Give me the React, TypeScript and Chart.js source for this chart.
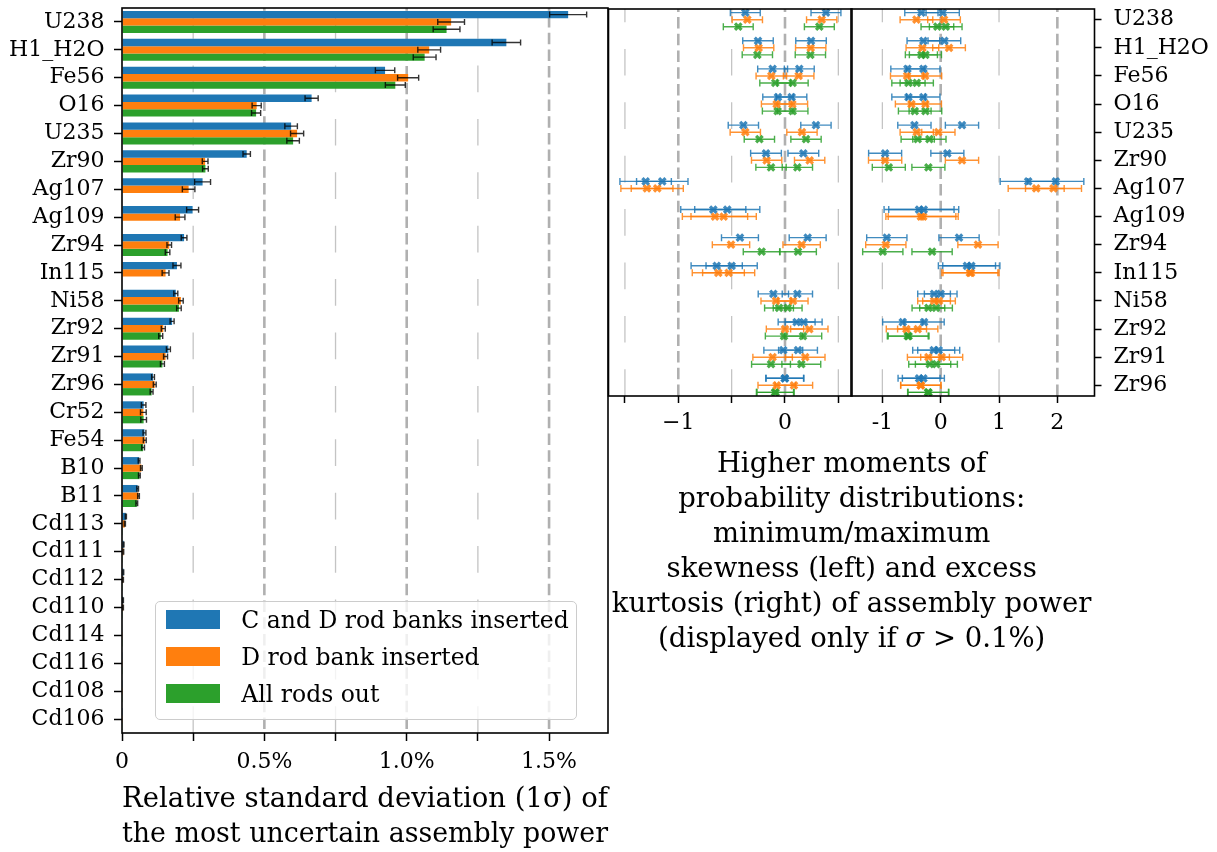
import React, { useEffect, useRef } from 'react';
import { Chart, registerables } from 'chart.js';

Chart.register(...registerables);

const W = 1217;
const H = 852;
const FONT = "'DejaVu Serif', 'Liberation Serif', serif";

// ---------- left panel: relative standard deviation ----------
const categories = ['U238', 'H1_H2O', 'Fe56', 'O16', 'U235', 'Zr90', 'Ag107', 'Ag109', 'Zr94', 'In115', 'Ni58', 'Zr92', 'Zr91', 'Zr96', 'Cr52', 'Fe54', 'B10', 'B11', 'Cd113', 'Cd111', 'Cd112', 'Cd110', 'Cd114', 'Cd116', 'Cd108', 'Cd106'];
const seriesLabels = ['C and D rod banks inserted', 'D rod bank inserted', 'All rods out'];
const seriesColors = ['#1f77b4', '#ff7f0e', '#2ca02c'];

const sdCD = [1.567, 1.350, 0.924, 0.666, 0.594, 0.438, 0.283, 0.248, 0.218, 0.193, 0.189, 0.176, 0.163, 0.109, 0.076, 0.079, 0.060, 0.055, 0.0135, 0.006, 0.005, 0.004, 0.0015, 0.001, 0.0008, 0.0005];
const sdCDErr = [0.065, 0.050, 0.034, 0.023, 0.022, 0.013, 0.028, 0.021, 0.010, 0.014, 0.007, 0.007, 0.007, 0.005, 0.008, 0.005, 0.003, 0.003, 0.002, 0.001, 0.001, 0.001, 0, 0, 0, 0];
const sdD = [1.156, 1.079, 1.005, 0.473, 0.615, 0.292, 0.234, 0.204, 0.166, 0.153, 0.207, 0.145, 0.153, 0.115, 0.075, 0.080, 0.068, 0.058, 0.010, 0.005, 0.004, 0.004, 0.001, 0.001, 0.0005, 0.0005];
const sdDErr = [0.047, 0.040, 0.037, 0.016, 0.023, 0.010, 0.022, 0.017, 0.008, 0.012, 0.008, 0.007, 0.007, 0.005, 0.010, 0.005, 0.003, 0.003, 0.002, 0.001, 0.001, 0.001, 0, 0, 0, 0];
const sdARO = [1.140, 1.063, 0.960, 0.471, 0.601, 0.293, null, null, 0.160, null, 0.200, 0.136, 0.142, 0.104, 0.076, 0.074, 0.061, 0.052, 0.001, 0.001, 0.001, 0.001, 0.001, 0.001, 0.001, 0.001];
const sdAROErr = [0.047, 0.040, 0.035, 0.016, 0.022, 0.010, null, null, 0.008, null, 0.008, 0.007, 0.007, 0.005, 0.010, 0.005, 0.003, 0.003, 0, 0, 0, 0, 0, 0, 0, 0];

const mainMajorGrid = [0.5, 1.0, 1.5];
const mainMinorGrid = [0.25, 0.75, 1.25];

// ---------- right panels: higher moments ----------
const hmIsotopes = ['U238', 'H1_H2O', 'Fe56', 'O16', 'U235', 'Zr90', 'Ag107', 'Ag109', 'Zr94', 'In115', 'Ni58', 'Zr92', 'Zr91', 'Zr96'];
const seriesOffsets = [-0.25, 0, 0.25];

const skewMinCD = [-0.372, -0.253, -0.116, -0.066, -0.390, -0.178, -1.306, -0.672, -0.422, -0.640, -0.109, 0.109, -0.016, -0.003];
const skewMaxCD = [0.384, 0.244, 0.134, 0.0625, 0.290, 0.172, -1.150, -0.541, 0.2125, -0.500, 0.116, 0.175, 0.122, 0.000];
const skewErrCD = [0.140, 0.143, 0.140, 0.142, 0.142, 0.144, 0.241, 0.305, 0.173, 0.240, 0.142, 0.173, 0.182, 0.177];
const skewMinD = [-0.353, -0.247, -0.128, -0.078, -0.372, -0.172, -1.294, -0.656, -0.506, -0.625, -0.084, 0.000, -0.116, -0.078];
const skewMaxD = [0.344, 0.241, 0.128, 0.069, 0.159, 0.231, -1.197, -0.575, 0.156, -0.528, 0.075, 0.228, 0.190, 0.084];
const skewErrD = [0.142, 0.142, 0.143, 0.143, 0.142, 0.142, 0.244, 0.306, 0.175, 0.244, 0.141, 0.175, 0.185, 0.175];
const skewMinARO = [-0.438, -0.259, -0.091, -0.069, -0.240, -0.131, null, null, -0.219, null, -0.056, -0.009, -0.131, -0.094];
const skewMaxARO = [0.322, 0.238, 0.072, 0.072, 0.197, 0.116, null, null, 0.122, null, 0.025, 0.169, 0.153, -0.088];
const skewErrARO = [0.140, 0.142, 0.145, 0.143, 0.142, 0.142, null, null, 0.172, null, 0.135, 0.175, 0.182, 0.174];

const kurtMinCD = [-0.331, -0.297, -0.570, -0.553, -0.451, -0.953, 1.500, -0.371, -0.924, 0.450, -0.114, -0.650, -0.120, -0.371];
const kurtMaxCD = [0.034, 0.063, -0.297, -0.297, 0.365, 0.114, 1.974, -0.291, 0.314, 0.525, 0.000, -0.285, -0.034, -0.297];
const kurtErrCD = [0.285, 0.280, 0.285, 0.285, 0.285, 0.283, 0.480, 0.600, 0.345, 0.490, 0.280, 0.345, 0.360, 0.360];
const kurtMinD = [-0.416, -0.314, -0.576, -0.502, -0.411, -0.953, 1.637, -0.340, -0.941, 0.500, -0.114, -0.588, -0.211, -0.342];
const kurtMaxD = [0.057, 0.143, -0.268, -0.262, -0.040, 0.365, 1.934, -0.300, 0.639, 0.520, -0.029, -0.394, 0.017, -0.340];
const kurtErrD = [0.280, 0.280, 0.285, 0.275, 0.285, 0.285, 0.480, 0.600, 0.345, 0.480, 0.280, 0.345, 0.360, 0.345];
const kurtMinARO = [-0.057, -0.331, -0.553, -0.445, -0.394, -0.890, null, null, -0.993, null, -0.211, -0.565, -0.188, -0.217];
const kurtMaxARO = [0.086, -0.262, -0.411, -0.262, -0.194, -0.211, null, null, -0.148, null, -0.080, -0.550, -0.074, -0.210];
const kurtErrARO = [0.280, 0.275, 0.285, 0.280, 0.285, 0.283, null, null, 0.345, null, 0.280, 0.350, 0.360, 0.350];

const skewMajorGrid = [-1, 0];
const skewMinorGrid = [-1.5, -0.5, 0.5];
const kurtMajorGrid = [0, 2];
const kurtMinorGrid = [-1, 1];

const mainTitle = ['Relative standard deviation (1σ) of', 'the most uncertain assembly power'];

// ---------- helpers ----------
function rgba(hex: string, a: number) {
  const n = parseInt(hex.slice(1), 16);
  return `rgba(${(n >> 16) & 255},${(n >> 8) & 255},${n & 255},${a})`;
}

function zeroPad(s: any) {
  s.paddingLeft = 0;
  s.paddingRight = 0;
  s.paddingTop = 0;
  s.paddingBottom = 0;
}

function makeDecor(major: number[], minor: number[], majorOffset: number, mode: 'bar' | 'scatter', barErrors?: (number | null)[][]) {
  return {
    id: 'decor',
    beforeDatasetsDraw(chart: any) {
      const { ctx, chartArea: a } = chart;
      const xs = chart.scales.x;
      ctx.save();
      ctx.beginPath();
      ctx.rect(a.left, a.top, a.right - a.left, a.bottom - a.top);
      ctx.clip();
      const vline = (v: number, dash: number[], off: number, color: string, lw: number) => {
        const px = xs.getPixelForValue(v);
        ctx.setLineDash(dash);
        ctx.lineDashOffset = off;
        ctx.strokeStyle = color;
        ctx.lineWidth = lw;
        ctx.beginPath();
        ctx.moveTo(px, a.bottom);
        ctx.lineTo(px, a.top);
        ctx.stroke();
      };
      minor.forEach((v) => vline(v, [26.7, 26.7], 0, '#c4c4c4', 1.3));
      major.forEach((v) => vline(v, [11.5, 5.2], majorOffset, '#b0b0b0', 2.6));
      ctx.restore();

      if (mode === 'scatter') {
        chart.data.datasets.forEach((ds: any, di: number) => {
          const meta = chart.getDatasetMeta(di);
          ctx.save();
          ctx.strokeStyle = ds.borderColor;
          ctx.lineWidth = 1.4;
          meta.data.forEach((el: any, i: number) => {
            const p = ds.data[i];
            if (!p || p.e == null) return;
            const x0 = xs.getPixelForValue(p.x - p.e);
            const x1 = xs.getPixelForValue(p.x + p.e);
            const y = el.y;
            ctx.beginPath();
            ctx.moveTo(x0, y);
            ctx.lineTo(x1, y);
            ctx.moveTo(x0, y - 3.5);
            ctx.lineTo(x0, y + 3.5);
            ctx.moveTo(x1, y - 3.5);
            ctx.lineTo(x1, y + 3.5);
            ctx.stroke();
          });
          ctx.restore();
        });
      }
    },
    afterDatasetsDraw(chart: any) {
      const { ctx, chartArea: a } = chart;
      const xs = chart.scales.x;
      if (mode === 'bar' && barErrors) {
        chart.data.datasets.forEach((ds: any, di: number) => {
          const meta = chart.getDatasetMeta(di);
          const errs = barErrors[di];
          ctx.save();
          ctx.strokeStyle = 'rgba(0,0,0,0.8)';
          ctx.lineWidth = 1.4;
          meta.data.forEach((el: any, i: number) => {
            const v = ds.data[i];
            const e = errs[i];
            if (v == null || !e) return;
            const x0 = xs.getPixelForValue(v - e);
            const x1 = xs.getPixelForValue(v + e);
            const y = el.y;
            ctx.beginPath();
            ctx.moveTo(x0, y);
            ctx.lineTo(x1, y);
            ctx.moveTo(x0, y - 3);
            ctx.lineTo(x0, y + 3);
            ctx.moveTo(x1, y - 3);
            ctx.lineTo(x1, y + 3);
            ctx.stroke();
          });
          ctx.restore();
        });
      }
      ctx.save();
      ctx.strokeStyle = '#000';
      ctx.lineWidth = 1.6;
      ctx.setLineDash([]);
      ctx.strokeRect(a.left, a.top, a.right - a.left, a.bottom - a.top);
      ctx.restore();
    },
  };
}

function pointsFor(mins: (number | null)[], maxs: (number | null)[], errs: (number | null)[], off: number) {
  const pts: any[] = [];
  hmIsotopes.forEach((_, i) => {
    [mins[i], maxs[i]].forEach((v) => {
      if (v != null) pts.push({ x: v, y: i + off, e: errs[i] });
    });
  });
  return pts;
}

const tickFont = { family: FONT, size: 22 };
const tickGrid = { drawOnChartArea: false, drawTicks: true, tickWidth: 1.5, tickColor: '#000' };

function mainConfig(): any {
  const sd = [sdCD, sdD, sdARO];
  const errs = [sdCDErr, sdDErr, sdAROErr];
  return {
    type: 'bar',
    data: {
      labels: categories,
      datasets: seriesLabels.map((label, k) => ({
        label,
        data: sd[k],
        backgroundColor: seriesColors[k],
        borderWidth: 0,
        categoryPercentage: 0.79,
        barPercentage: 1.0,
      })),
    },
    options: {
      indexAxis: 'y',
      responsive: false,
      animation: false,
      events: [],
      layout: { padding: { left: 0, top: 8, right: W - 608, bottom: 0 } },
      plugins: { legend: { display: false }, tooltip: { enabled: false } },
      scales: {
        x: {
          type: 'linear',
          min: 0,
          max: 1.707,
          afterFit: (s: any) => { s.height = H - 733; zeroPad(s); },
          border: { display: false },
          grid: { ...tickGrid, tickLength: 8 },
          ticks: {
            stepSize: 0.25,
            includeBounds: false,
            padding: 7.8,
            maxRotation: 0,
            autoSkip: false,
            font: tickFont,
            color: '#000',
            callback: (v: number) => {
              if (v === 0) return '0';
              if (Math.abs(v * 2 - Math.round(v * 2)) < 1e-6) return v.toFixed(1) + '%';
              return '';
            },
          },
          title: {
            display: true,
            text: mainTitle,
            color: '#000',
            font: { family: FONT, size: 27.5, lineHeight: 35 / 27.5 },
            padding: { top: 0, bottom: 0 },
          },
        },
        y: {
          type: 'category',
          offset: true,
          afterFit: (s: any) => { s.width = 122; zeroPad(s); },
          border: { display: false },
          grid: { ...tickGrid, offset: false, tickLength: 8 },
          ticks: { padding: 9.5, autoSkip: false, font: tickFont, color: '#000' },
        },
      },
    },
    plugins: [makeDecor(mainMajorGrid, mainMinorGrid, 12.6, 'bar', errs)],
  };
}

function momentConfig(kind: 'skew' | 'kurt'): any {
  const isSkew = kind === 'skew';
  const mins = isSkew ? [skewMinCD, skewMinD, skewMinARO] : [kurtMinCD, kurtMinD, kurtMinARO];
  const maxs = isSkew ? [skewMaxCD, skewMaxD, skewMaxARO] : [kurtMaxCD, kurtMaxD, kurtMaxARO];
  const errs = isSkew ? [skewErrCD, skewErrD, skewErrARO] : [kurtErrCD, kurtErrD, kurtErrARO];
  const left = isSkew ? 608.5 : 851;
  const right = isSkew ? 852 : 1094.5;
  return {
    type: 'scatter',
    data: {
      datasets: seriesLabels.map((label, k) => ({
        label,
        data: pointsFor(mins[k], maxs[k], errs[k], seriesOffsets[k]),
        pointStyle: 'crossRot',
        pointRadius: 4.6,
        pointBorderWidth: 3.2,
        borderColor: rgba(seriesColors[k], 0.85),
        backgroundColor: rgba(seriesColors[k], 0.85),
        showLine: false,
      })),
    },
    options: {
      responsive: false,
      animation: false,
      events: [],
      layout: { padding: { left, top: 9, right: isSkew ? W - right : 0, bottom: 0 } },
      plugins: { legend: { display: false }, tooltip: { enabled: false } },
      scales: {
        x: {
          type: 'linear',
          min: isSkew ? -1.654 : -1.538,
          max: isSkew ? 0.628 : 2.637,
          afterFit: (s: any) => { s.height = H - 396; zeroPad(s); },
          border: { display: false },
          grid: { ...tickGrid, tickLength: 7 },
          ticks: {
            stepSize: isSkew ? 0.5 : 1,
            includeBounds: false,
            padding: 6.8,
            maxRotation: 0,
            autoSkip: false,
            font: tickFont,
            color: '#000',
            callback: (v: number) => {
              if (isSkew) {
                if (v === -1) return '\u22121';
                if (v === 0) return '0';
                return '';
              }
              return String(v);
            },
          },
        },
        y: {
          type: 'linear',
          display: !isSkew,
          position: 'right',
          reverse: true,
          min: -0.38,
          max: 13.38,
          afterFit: (s: any) => { s.width = isSkew ? 0 : W - right; zeroPad(s); },
          border: { display: false },
          grid: { ...tickGrid, tickLength: 7 },
          ticks: {
            stepSize: 1,
            includeBounds: false,
            padding: 12,
            autoSkip: false,
            font: tickFont,
            color: '#000',
            callback: (v: number) => hmIsotopes[v] ?? '',
          },
        },
      },
    },
    plugins: [makeDecor(isSkew ? skewMajorGrid : kurtMajorGrid, isSkew ? skewMinorGrid : kurtMinorGrid, 0, 'scatter')],
  };
}

export default function App() {
  const mainRef = useRef<HTMLCanvasElement>(null);
  const skewRef = useRef<HTMLCanvasElement>(null);
  const kurtRef = useRef<HTMLCanvasElement>(null);

  useEffect(() => {
    Chart.defaults.font.family = FONT;
    Chart.defaults.color = '#000';
    const charts: Chart[] = [];
    if (mainRef.current) charts.push(new Chart(mainRef.current, mainConfig()));
    if (skewRef.current) charts.push(new Chart(skewRef.current, momentConfig('skew')));
    if (kurtRef.current) charts.push(new Chart(kurtRef.current, momentConfig('kurt')));
    return () => charts.forEach((c) => c.destroy());
  }, []);

  const canvasStyle: React.CSSProperties = { position: 'absolute', left: 0, top: 0, width: W, height: H };

  return (
    <div style={{ position: 'fixed', left: 0, top: 0, width: W, height: H, background: '#fff', fontFamily: FONT, overflow: 'hidden' }}>
      <canvas ref={mainRef} width={W} height={H} style={canvasStyle} />
      <canvas ref={skewRef} width={W} height={H} style={canvasStyle} />
      <canvas ref={kurtRef} width={W} height={H} style={canvasStyle} />

      {/* legend */}
      <div
        style={{
          position: 'absolute',
          left: 155,
          top: 601,
          width: 422,
          height: 119,
          boxSizing: 'border-box',
          border: '1.5px solid #cccccc',
          borderRadius: 5,
          background: 'rgba(255,255,255,0.8)',
        }}
      >
        {seriesLabels.map((label, k) => (
          <div key={label} style={{ position: 'absolute', left: 0, top: 19.3 + 37 * k - 1.5 - 15, height: 30, width: '100%' }}>
            <div
              style={{
                position: 'absolute',
                left: 10,
                top: 15 - 9.5,
                width: 54,
                height: 19,
                background: seriesColors[k],
              }}
            />
            <div
              style={{
                position: 'absolute',
                left: 85.3,
                top: 0,
                height: 30,
                lineHeight: '30px',
                fontSize: 23.5,
                whiteSpace: 'nowrap',
                color: '#000',
              }}
            >
              {label}
            </div>
          </div>
        ))}
      </div>

      {/* right panels title */}
      <div
        style={{
          position: 'absolute',
          left: 851.7 - 350,
          top: 444.5,
          width: 700,
          textAlign: 'center',
          fontSize: 27.5,
          lineHeight: '35px',
          color: '#000',
        }}
      >
        <div>Higher moments of</div>
        <div>probability distributions:</div>
        <div>minimum/maximum</div>
        <div>skewness (left) and excess</div>
        <div>kurtosis (right) of assembly power</div>
        <div>
          (displayed only if <i>σ</i> &gt; 0.1%)
        </div>
      </div>
    </div>
  );
}
